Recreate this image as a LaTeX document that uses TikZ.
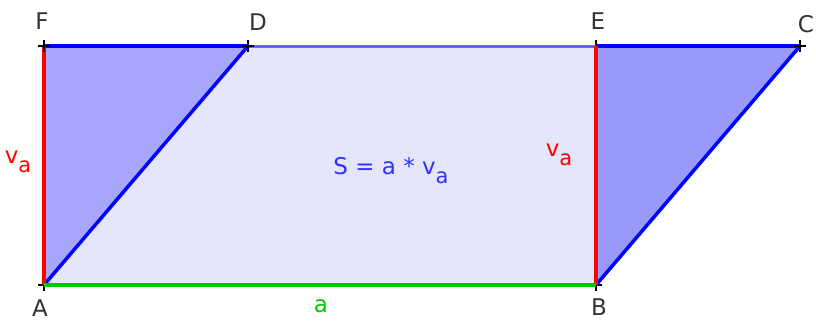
\documentclass[tikz,border=0pt]{standalone}
\usepackage{fontspec}
\setmainfont{DejaVu Sans}
\usetikzlibrary{positioning}
\definecolor{parfill}{RGB}{230,230,250}
\definecolor{lfill}{RGB}{166,166,250}
\definecolor{rfill}{RGB}{153,153,250}
\definecolor{ggreen}{RGB}{0,200,0}
\definecolor{lblue}{RGB}{100,100,255}
\definecolor{tblue}{RGB}{50,50,255}
\newcommand{\lowsub}[1]{\raisebox{-9pt}{\fontsize{21}{21}\selectfont #1}}

\begin{document}
\begin{tikzpicture}[x=1pt, y=-1pt,
    lbl/.style={font=\fontsize{23}{23}\selectfont, text=black!80, inner sep=0pt},
    edge/.style={line width=3.5pt}]
    \useasboundingbox (0,0) rectangle (816,322);
    \coordinate (A) at (44,285);
    \coordinate (B) at (596,285);
    \coordinate (C) at (800,46);
    \coordinate (D) at (248,46);
    \coordinate (E) at (596,46);
    \coordinate (F) at (44,46);
    % areas
    \fill[parfill] (A) -- (B) -- (C) -- (D) -- cycle;
    \fill[lfill] (A) -- (F) -- (D) -- cycle;
    \fill[rfill] (B) -- (E) -- (C) -- cycle;
    \foreach \p in {A,B,E} \draw[line width=2pt] ([xshift=-6pt]\p) -- ([xshift=6pt]\p) ([yshift=-6pt]\p) -- ([yshift=6pt]\p);
    % sides
    \draw[lblue, line width=3pt] (D) -- (E);
    \draw[blue, line width=3.5pt] (F) -- (D) (E) -- (C);
    \draw[blue, edge] (A) -- (D) (B) -- (C);
    \draw[red, line width=4.5pt] (A) -- (F) (B) -- (E);
    \draw[ggreen, line width=4.5pt] (A) -- (B);
    \foreach \p in {F,D,C} \draw[line width=2pt] ([xshift=-6pt]\p) -- ([xshift=6pt]\p) ([yshift=-6pt]\p) -- ([yshift=6pt]\p);
    % labels
    \node[lbl] (lF) at (42,21) {F};
    \node[lbl] (lD) at (258,22) {D};
    \node[lbl] (lE) at (598,21) {E};
    \node[lbl] (lC) at (806,24) {C};
    \node[lbl] (lA) at (40,308) {A};
    \node[lbl] (lB) at (599,307) {B};
    \node[lbl, text=ggreen] (la) at (321,306) {a};
    \node[lbl, text=red] (lvl) at (18,162) {v\lowsub{a}};
    \node[lbl, text=red] (lvr) at (559,155) {v\lowsub{a}};
    \node[lbl, text=tblue] (lS) at (391,171) {S = a * v\lowsub{a}};
\end{tikzpicture}
\end{document}
